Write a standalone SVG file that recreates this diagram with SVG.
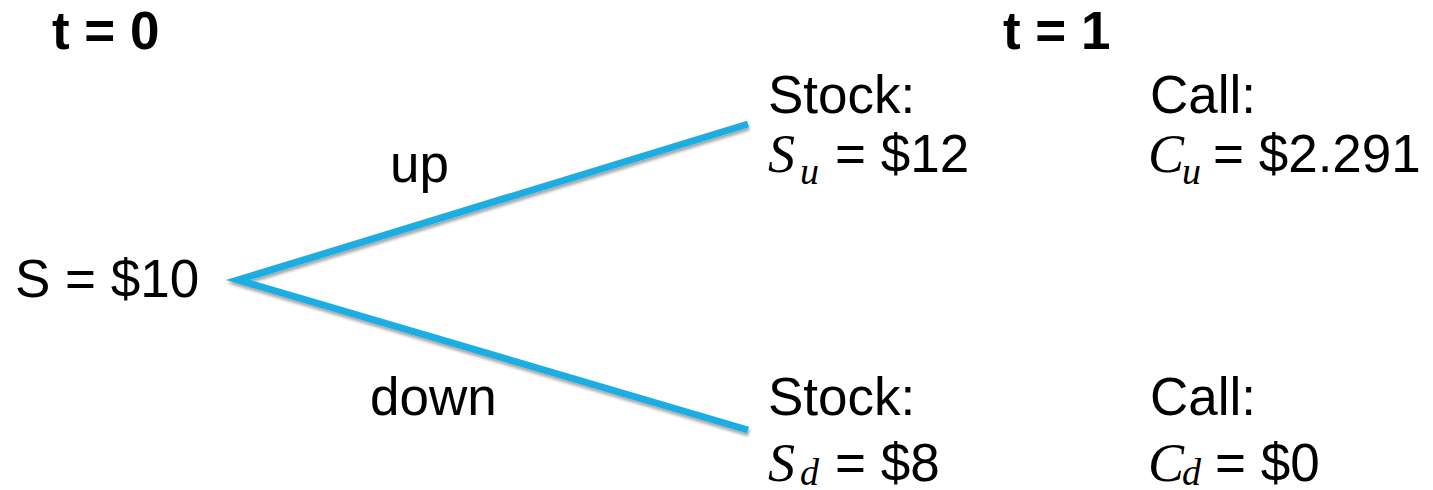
<svg xmlns="http://www.w3.org/2000/svg" width="1433" height="490" viewBox="0 0 1433 490">
<defs>
<style>
.t{font-family:"Liberation Sans",Arial,sans-serif;font-size:53px;fill:#000}
.b{font-weight:bold}
.m{font-family:"Liberation Serif","DejaVu Serif",serif;font-style:italic;font-size:54px;fill:#000}
.sub{font-family:"Liberation Serif","DejaVu Serif",serif;font-style:italic;font-size:38px;fill:#000}
.edge{stroke:#1fade3;stroke-width:7;fill:none;stroke-linecap:butt;stroke-linejoin:miter}
</style>
<filter id="sh" x="-5%" y="-5%" width="110%" height="120%">
<feDropShadow dx="1" dy="3" stdDeviation="1.5" flood-color="#000" flood-opacity="0.35"/>
</filter>
</defs>
<rect width="1433" height="490" fill="#fff"/>
<g id="connectors" filter="url(#sh)">
<path class="edge" d="M748,124 L238,280 L748,430"/>
</g>
<g id="labels">
<text class="t b" x="52" y="49">t = 0</text>
<text class="t b" x="1003" y="49">t = 1</text>
<text class="t" x="390" y="182">up</text>
<text class="t" x="370" y="415">down</text>
</g>
<g id="node-s0">
<text class="t" x="15" y="297">S = $10</text>
</g>
<g id="node-stock-up">
<text class="t" x="768" y="113">Stock:</text>
<text class="m" x="768" y="172">S</text>
<text class="sub" x="800" y="184">u</text>
<text class="t" x="835" y="172">= $12</text>
</g>
<g id="node-call-up">
<text class="t" x="1150" y="113">Call:</text>
<text class="m" x="1148" y="172">C</text>
<text class="sub" x="1182" y="184">u</text>
<text class="t" x="1213" y="172">= $2.291</text>
</g>
<g id="node-stock-down">
<text class="t" x="768" y="415">Stock:</text>
<text class="m" x="768" y="481">S</text>
<text class="sub" x="800" y="485">d</text>
<text class="t" x="835" y="481">= $8</text>
</g>
<g id="node-call-down">
<text class="t" x="1150" y="415">Call:</text>
<text class="m" x="1148" y="481">C</text>
<text class="sub" x="1182" y="485">d</text>
<text class="t" x="1215" y="481">= $0</text>
</g>
</svg>
